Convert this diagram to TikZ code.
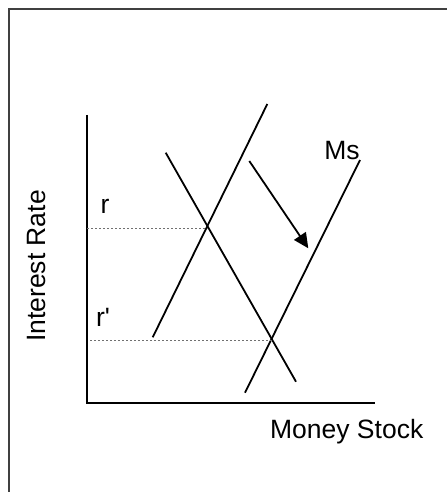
\documentclass[tikz,border=0pt]{standalone}
\usepackage{fontspec}
\setmainfont{Liberation Sans}
\usepackage{xcolor}
\usetikzlibrary{arrows.meta,positioning}
\definecolor{ink}      {HTML}{000000}
\definecolor{framegray}{HTML}{404040}
\definecolor{dotgray}  {HTML}{707070}
\tikzset{
  curve/.style={draw=ink,line width=1.8pt},
  axisline/.style={draw=ink,line width=2.2pt},
  guide/.style={draw=dotgray,line width=1pt,dash pattern=on 2pt off 2pt},
  lbl/.style={font=\fontsize{26.5}{31}\selectfont,inner sep=0pt}
}
\begin{document}
\begin{tikzpicture}[x=1pt,y=-1pt]
  \useasboundingbox (0,0) rectangle (447,492);
  % frame
  \draw[framegray,line width=1.4pt] (9,492) -- (9,9) -- (447,9);
  % axes
  \coordinate (top) at (86.7,115);
  \coordinate (origin) at (86.7,403);
  \coordinate (xend) at (375,403);
  \draw[axisline] (top) -- (origin) -- (xend);
  % supply, demand
  \coordinate (s1a) at (152.7,337.3);
  \coordinate (s1b) at (267.3,104);
  \coordinate (da) at (165.7,152.7);
  \coordinate (db) at (296,381.7);
  \coordinate (s2a) at (245,392.7);
  \coordinate (s2b) at (360,160);
  \draw[curve] (s1a) -- (s1b);
  \draw[curve] (da) -- (db);
  \draw[curve] (s2a) -- (s2b);
  % guides
  \coordinate (ra) at (87,228);
  \coordinate (rb) at (207.3,228);
  \coordinate (rpa) at (90,340);
  \coordinate (rpb) at (271.7,340);
  \draw[guide] (ra) -- (rb);
  \draw[guide] (rpa) -- (rpb);
  % shift arrow
  \coordinate (arra) at (249.3,161);
  \coordinate (arrb) at (308.3,248.3);
  \draw[curve,-{Triangle[length=15pt,width=14pt]}] (arra) -- (arrb);
  % labels
  \node[lbl] (rlbl) at (105,206) {r};
  \node[lbl] (rplbl) at (103,317) {r\textquotesingle};
  \node[lbl] (mslbl) at (342,151) {Ms};
  \node[lbl,rotate=90] (ylbl) at (36.7,266) {Interest Rate};
  \node[lbl] (xlbl) at (346.7,432) {Money Stock};
\end{tikzpicture}
\end{document}
